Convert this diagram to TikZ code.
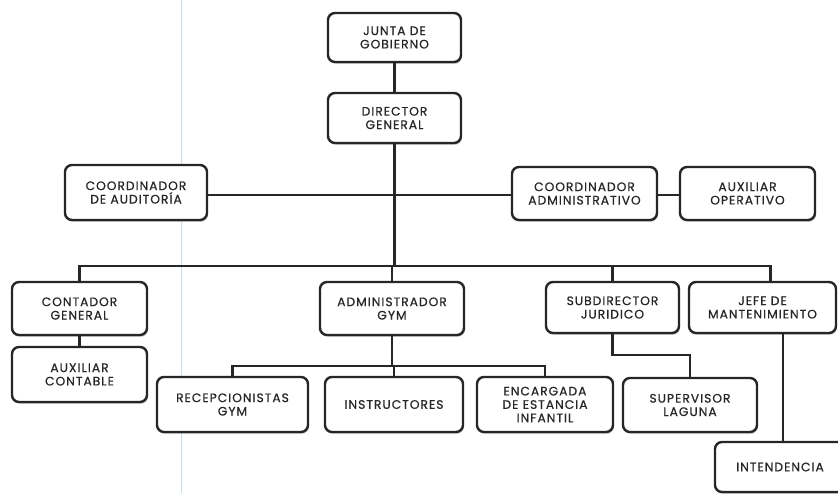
\documentclass[tikz,border=0pt]{standalone}
\usepackage{fontspec}
\setmainfont{Poppins}[LetterSpace=8, FakeBold=0.6]
\usetikzlibrary{shadows}
\definecolor{guide}{HTML}{C9DDE8}
\definecolor{ink}{HTML}{262626}
\tikzset{
  orgbox/.style={draw=ink, line width=2.4pt, rounded corners=7pt, fill=white,
    align=center, text=ink, font=\fontsize{12.3}{13.4}\selectfont, inner sep=1pt,
    drop shadow={shadow xshift=0.8pt, shadow yshift=-1.8pt, opacity=0.35, fill=black!60}},
  link/.style={draw=ink, line width=2.3pt},
}
\begin{document}
\begin{tikzpicture}[x=1pt, y=-1pt]
\useasboundingbox (0,0) rectangle (838,493);
\clip (0,0) rectangle (838,493);
\fill[white] (0,0) rectangle (838,493);
\draw[guide, line width=1pt] (181,0) -- (181,493);
% nodes
\node[orgbox, minimum width=133pt, minimum height=49pt] (junta) at (394.5,37.5) {JUNTA DE\\GOBIERNO};
\node[orgbox, minimum width=133pt, minimum height=50pt] (director) at (394.5,118) {DIRECTOR\\GENERAL};
\node[orgbox, minimum width=142pt, minimum height=55pt] (caud) at (136,192.5) {COORDINADOR\\DE AUDITORÍA};
\node[orgbox, minimum width=145pt, minimum height=53pt] (cadm) at (584.5,193.5) {COORDINADOR\\ADMINISTRATIVO};
\node[orgbox, minimum width=135pt, minimum height=53pt] (auxop) at (747.5,193.5) {AUXILIAR\\OPERATIVO};
\node[orgbox, minimum width=135pt, minimum height=53pt] (contador) at (79.5,308.5) {CONTADOR\\GENERAL};
\node[orgbox, minimum width=135pt, minimum height=55pt] (auxcont) at (79.5,374.5) {AUXILIAR\\CONTABLE};
\node[orgbox, minimum width=144pt, minimum height=53pt] (admgym) at (392,308.5) {ADMINISTRADOR\\GYM};
\node[orgbox, minimum width=133pt, minimum height=51pt] (subdir) at (612.5,307.5) {SUBDIRECTOR\\JURIDICO};
\node[orgbox, minimum width=147pt, minimum height=51pt] (jefe) at (762.5,307.5) {JEFE DE\\MANTENIMIENTO};
\node[orgbox, minimum width=151pt, minimum height=55pt] (recep) at (232.5,404.5) {RECEPCIONISTAS\\GYM};
\node[orgbox, minimum width=138pt, minimum height=55pt] (instr) at (394,404.5) {INSTRUCTORES};
\node[orgbox, minimum width=136pt, minimum height=55pt] (encarg) at (545,404.5) {ENCARGADA\\DE ESTANCIA\\INFANTIL};
\node[orgbox, minimum width=134pt, minimum height=54pt] (superv) at (690,405) {SUPERVISOR\\LAGUNA};
\node[orgbox, minimum width=130pt, minimum height=50pt, text width=120pt] (intend) at (780,467) {INTENDENCIA};
% coordinates
\coordinate (bus) at (0,266);
\coordinate (subbus) at (0,366);
\coordinate (jur) at (0,355);
\coordinate (mid) at (0,195);
% connectors
\draw[link] (junta.south) -- (director.north);
\draw[link] (director.south) -- (director.south |- bus);
\draw[link] (caud.east |- mid) -- (cadm.west |- mid);
\draw[link] (cadm.east |- mid) -- (auxop.west |- mid);
\draw[link] (contador.north) |- ([xshift=8pt]jefe.north |- bus) -- ([xshift=8pt]jefe.north);
\draw[link] (admgym.north |- bus) -- (admgym.north);
\draw[link] (subdir.north |- bus) -- (subdir.north);
\draw[link] (contador.south) -- (auxcont.north);
\draw[link] (admgym.south) -- (admgym.south |- subbus);
\draw[link] (recep.north) |- (encarg.north |- subbus) -- (encarg.north);
\draw[link] (instr.north |- subbus) -- (instr.north);
\draw[link] (subdir.south) |- (superv.north |- jur) -- (superv.north);
\draw[link] ([xshift=20.5pt]jefe.south) -- ([xshift=20.5pt]jefe.south |- intend.north);
\end{tikzpicture}
\end{document}
